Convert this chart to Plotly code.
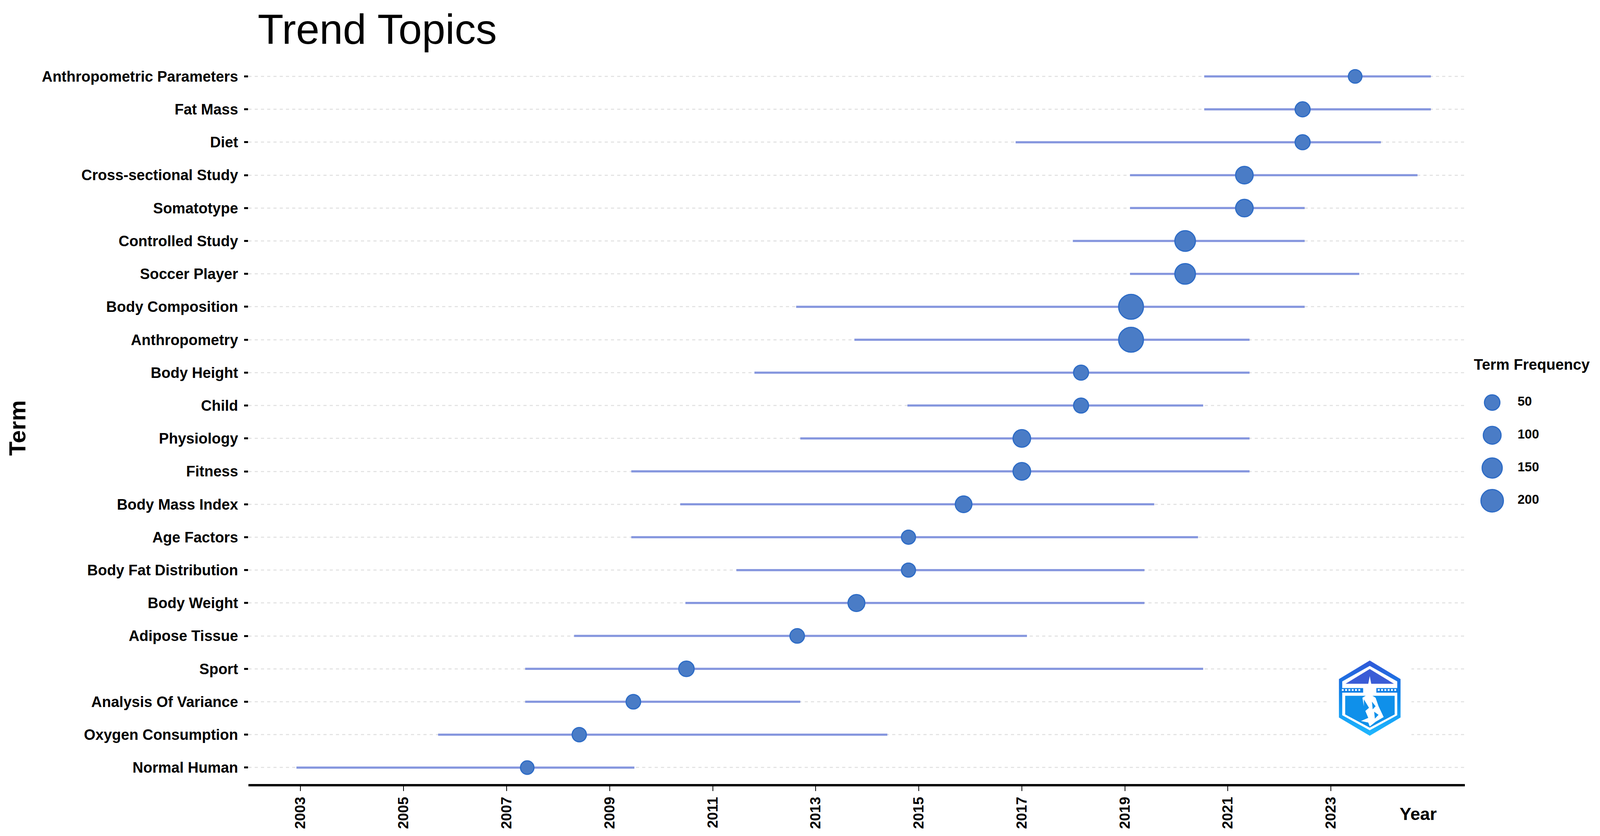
import base64
import plotly.graph_objects as go

# bottom to top, same order as the y axis
terms = ["Normal Human", "Oxygen Consumption", "Analysis Of Variance", "Sport", "Adipose Tissue",
         "Body Weight", "Body Fat Distribution", "Age Factors", "Body Mass Index", "Fitness",
         "Physiology", "Child", "Body Height", "Anthropometry", "Body Composition",
         "Soccer Player", "Controlled Study", "Somatotype", "Cross-sectional Study", "Diet",
         "Fat Mass", "Anthropometric Parameters"]
year_q1 = [2002.92, 2005.67, 2007.36, 2007.36, 2008.31, 2010.47, 2011.46, 2009.42, 2010.37, 2009.42,
           2012.70, 2014.78, 2011.81, 2013.75, 2012.62, 2019.10, 2017.99, 2019.10, 2019.10, 2016.88,
           2020.54, 2020.54]
year_q3 = [2009.48, 2014.39, 2012.70, 2020.52, 2017.10, 2019.38, 2019.38, 2020.42, 2019.57, 2021.42,
           2021.42, 2020.52, 2021.42, 2021.42, 2022.49, 2023.55, 2022.49, 2022.49, 2024.68, 2023.97,
           2024.94, 2024.94]
year_median = [2007.40, 2008.41, 2009.46, 2010.49, 2012.64, 2013.79, 2014.80, 2014.80, 2015.87, 2017.00,
               2017.00, 2018.15, 2018.15, 2019.12, 2019.12, 2020.17, 2020.17, 2021.32, 2021.32, 2022.45,
               2022.45, 2023.47]
term_freq = [8, 25, 30, 50, 30, 80, 20, 20, 75, 95, 95, 40, 40, 250, 250, 160, 160, 95, 95, 40, 40, 10]

year_ticks = list(range(2003, 2024, 2))
legend_values = [50, 100, 150, 200]

W, H = 4346, 2139
PLOT_L, PLOT_R, PLOT_T, PLOT_B = 675, 3979, 145, 2006
X_RANGE = [2001.99, 2025.6]
ROW_PAD_TOP = 21.6
FONT = "Liberation Sans"
LINE_COL = "#8596de"
DOT_COL = "#4a7cc6"
DOT_EDGE = "#2e6cc6"
BODY_MARGIN = 8 / 4087  # page body margin as a share of the window


def dot_size(freq):
    # term frequency to marker diameter in px
    return 33.5 + 0.12 * freq


def px_x(x):
    return (x / W - BODY_MARGIN) / (1 - 2 * BODY_MARGIN)


def px_y(y):
    m = 8 / H
    return 1 - (y / H - m) / (1 - 2 * m)


logo_svg = """<svg xmlns="http://www.w3.org/2000/svg" viewBox="-30 -6 228 206" width="228" height="206">
<defs><linearGradient id="g" x1="0" y1="0" x2="0" y2="1">
<stop offset="0" stop-color="#3257d8"/><stop offset="0.45" stop-color="#0d84ea"/><stop offset="1" stop-color="#1fb8ff"/>
</linearGradient></defs>
<rect x="-30" y="-6" width="228" height="206" fill="white"/>
<path d="M84 0 L168 48 L168 147 L84 194 L0 147 L0 48 Z M84 14 L9 54 L9 141 L84 180 L159 141 L159 54 Z" fill="url(#g)" fill-rule="evenodd"/>
<path d="M84 22 L150 60 L18 60 Z" fill="#3a5cd6"/>
<path d="M4 71 L66 71 L66 83 L4 83 Z M102 71 L164 71 L164 83 L102 83 Z" fill="#0f7fe6"/>
<path d="M8 76 L62 76 M106 76 L160 76" stroke="white" stroke-width="5" stroke-dasharray="5 4"/>
<path d="M17 91 L152 91 L152 139 L84 173 L17 139 Z" fill="#0f90ea"/>
<path d="M84 40 L88 60 L96 66 L90 74 L90 90 L100 96 L108 118 L122 146 L100 158 L84 170 L80 160 L60 156 L80 148 L72 130 L82 122 L68 100 L68 118 L64 96 L78 88 L78 74 L72 66 L80 60 Z" fill="white"/>
<path d="M90 106 L100 118 L92 126 Z M96 132 L108 140 L98 150 Z" fill="#0f90ea"/>
</svg>"""
logo_src = "data:image/svg+xml;base64," + base64.b64encode(logo_svg.encode()).decode()

fig = go.Figure()

# span of each term
for term, q1, q3 in zip(terms, year_q1, year_q3):
    fig.add_trace(go.Scatter(x=[q1, q3], y=[term, term], mode="lines",
                             line=dict(color=LINE_COL, width=5.5), showlegend=False))

fig.add_trace(go.Scatter(x=year_median, y=terms, mode="markers", showlegend=False,
                         marker=dict(size=[dot_size(f) for f in term_freq], color=DOT_COL, opacity=1,
                                     line=dict(color=DOT_EDGE, width=3))))

# size legend on its own hidden axes, plotly legend caps marker size
legend_rows = [str(v) for v in legend_values]
fig.add_trace(go.Scatter(x=[0.177] * 4, y=legend_rows, xaxis="x2", yaxis="y2", mode="markers",
                         showlegend=False,
                         marker=dict(size=[dot_size(v) for v in legend_values], color=DOT_COL, opacity=1,
                                     line=dict(color=DOT_EDGE, width=3))))
fig.add_trace(go.Scatter(x=[0.407] * 4, y=legend_rows, xaxis="x2", yaxis="y2", mode="text",
                         text=legend_rows, textposition="middle right", showlegend=False,
                         textfont=dict(family=FONT, size=33, color="black", weight="bold")))

fig.update_layout(
    margin=dict(l=0, r=0, t=0, b=0),
    paper_bgcolor="white", plot_bgcolor="white",
    showlegend=False,
    title=dict(text="Trend Topics", x=px_x(700), xanchor="left", y=px_y(36), yanchor="top",
               font=dict(family=FONT, size=108, color="black")),
    xaxis=dict(domain=[px_x(PLOT_L), px_x(PLOT_R)], range=X_RANGE, tickmode="array", tickvals=year_ticks,
               ticks="outside", ticklen=12, tickwidth=2, tickcolor="black", tickangle=-90,
               tickfont=dict(family=FONT, size=37, color="black", weight="bold"),
               showgrid=False, zeroline=False, showline=True, linewidth=6, linecolor="black"),
    yaxis=dict(domain=[px_y(PLOT_B), px_y(PLOT_T)], type="category", categoryorder="array", categoryarray=terms,
               range=[-0.5, ROW_PAD_TOP], ticks="outside", ticklen=10, tickwidth=5, tickcolor="black",
               ticklabelstandoff=8,
               tickfont=dict(family=FONT, size=38, color="black", weight="bold"),
               showgrid=True, gridcolor="#e4e4e4", gridwidth=3, griddash="8px,8px",
               zeroline=False, showline=False),
    xaxis2=dict(domain=[px_x(4000), px_x(4300)], range=[0, 1], anchor="y2", visible=False),
    yaxis2=dict(domain=[px_y(1323), px_y(988)], type="category", categoryorder="array",
                categoryarray=legend_rows[::-1], range=[-0.5, 3.5], anchor="x2", visible=False),
    annotations=[
        dict(text="<b>Term</b>", xref="paper", yref="paper", x=px_x(47), y=px_y(1095), showarrow=False,
             xanchor="center", yanchor="middle", textangle=-90, font=dict(family=FONT, size=60, color="black")),
        dict(text="<b>Year</b>", xref="paper", yref="paper", x=px_x(3852), y=px_y(2082), showarrow=False,
             xanchor="center", yanchor="middle", font=dict(family=FONT, size=45, color="black")),
        dict(text="<b>Term Frequency</b>", xref="paper", yref="paper", x=px_x(4161), y=px_y(932), showarrow=False,
             xanchor="center", yanchor="middle", font=dict(family=FONT, size=38.5, color="black")),
    ],
    images=[dict(source=logo_src, xref="paper", yref="paper", x=px_x(3607), y=px_y(1684),
                 sizex=228 / W, sizey=206 / H, xanchor="left", yanchor="top", sizing="stretch", layer="above")],
)

fig.write_html("out.html")
